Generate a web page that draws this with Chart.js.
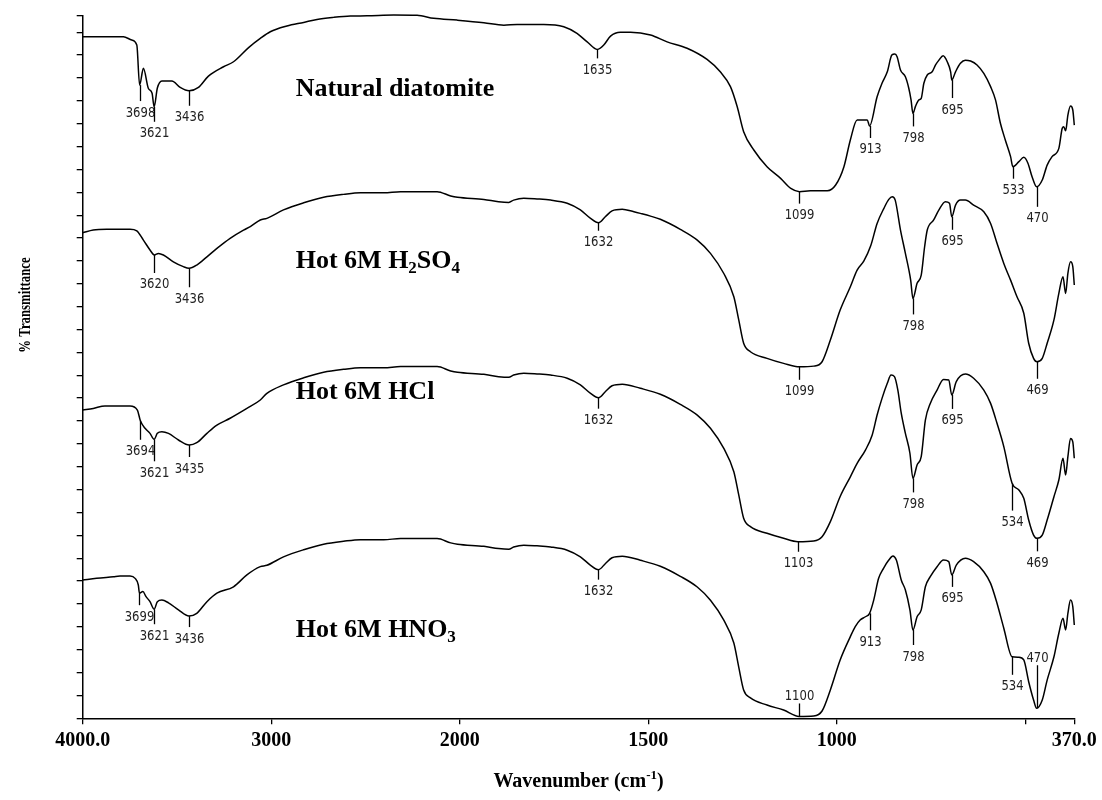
<!DOCTYPE html>
<html><head><meta charset="utf-8">
<script src="https://cdn.jsdelivr.net/npm/chart.js@4.4.1/dist/chart.umd.min.js"></script>
<style>html,body{margin:0;padding:0;background:#fff;}#wrap{width:1102px;height:800px;position:relative;}</style>
</head><body><div id="wrap"><canvas id="c" width="1102" height="800"></canvas></div>
<script>
// ---------------- data (wavenumber in cm-1, transmittance in arbitrary stacked units) -------------
const natWn = [4000,3784,3740,3713,3698,3678,3652,3632,3621,3604,3580,3527,3483,3436,3386,3333,3253,3200,3120,3058,3005,2917,2828,2757,2669,2580,2492,2350,2226,2138,2014,1936,1883,1848,1777,1724,1689,1662,1635,1618,1600,1574,1547,1494,1450,1397,1344,1309,1282,1264,1247,1220,1185,1149,1122,1099,1070,1025,1003,981,964,946,919,913,893,880,866,854,846,840,831,818,809,803,798,791,782,776,769,760,747,738,729,718,707,698,695,685,672,659,645,628,610,592,579,566,553,539,533,517,504,493,482,470,455,442,429,411,402,398,393,387,380,374,370];
const natT  = [298.0,298.0,296.6,294.4,276.9,284.2,275.5,273.3,267.4,275.6,278.7,278.7,275.9,274.4,275.9,280.8,284.9,287.1,293.3,297.3,300.2,302.7,304.3,305.6,306.5,307.1,307.2,307.5,307.4,306.1,305.3,304.2,303.1,303.4,303.4,302.4,299.5,295.8,292.5,294.4,298.3,300.0,300.0,298.8,295.8,293.0,288.1,282.7,276.2,267.4,256.5,248.5,241.2,236.1,231.7,230.3,230.7,230.7,233.2,241.2,252.9,261.6,261.6,259.0,271.8,277.7,282.7,290.0,290.5,289.3,283.5,280.5,275.5,270.4,264.5,267.7,270.4,271.1,277.7,281.3,282.7,285.7,287.8,289.7,287.1,282.7,279.1,282.7,286.4,287.8,287.4,285.7,282.0,276.2,270.4,260.2,252.9,245.6,241.2,243.4,245.3,242.7,236.8,232.4,235.4,241.9,245.6,249.2,258.0,258.7,256.9,263.8,267.7,266.0,259.4];

const h2so4Wn = [4000,3944,3873,3749,3713,3678,3643,3620,3598,3572,3519,3466,3436,3395,3341,3288,3218,3147,3111,3058,3023,2935,2828,2722,2616,2527,2403,2314,2120,2048,2012,1936,1897,1870,1857,1830,1795,1759,1715,1680,1653,1632,1614,1596,1569,1538,1521,1494,1468,1415,1370,1335,1300,1273,1260,1247,1229,1185,1141,1099,1061,1039,1017,991,964,946,928,910,893,875,862,853,845,831,818,804,798,787,776,767,760,743,729,712,701,695,685,672,659,637,610,592,575,557,539,522,504,491,478,469,455,442,424,411,400,393,387,380,374,370];
const h2so4T  = [212.3,213.5,213.8,213.8,213.1,209.1,204.8,202.6,203.3,202.6,199.6,197.5,196.8,198.2,201.8,205.5,209.9,213.5,215.0,217.9,218.6,222.3,225.4,227.8,229.1,229.8,229.8,230.3,230.3,228.4,227.8,226.9,225.9,225.6,226.6,227.4,227.1,226.6,225.2,222.3,218.6,216.7,219.3,221.9,222.6,221.5,220.8,219.6,218.2,213.8,209.1,203.3,194.6,184.3,174.2,164.0,160.3,157.4,155.2,153.7,154.0,155.9,165.4,178.5,188.7,196.0,200.0,206.6,216.4,223.0,226.9,228.1,226.6,213.5,203.3,191.6,183.6,190.2,193.8,206.2,213.5,217.9,222.3,225.9,225.2,219.3,224.4,226.6,226.6,224.4,221.5,216.4,207.7,198.9,191.6,184.3,177.1,164.0,157.4,155.9,157.4,164.0,174.2,185.8,193.1,185.8,194.6,199.6,197.5,189.5];

const hclWn = [4000,3944,3882,3749,3710,3694,3669,3643,3621,3604,3580,3545,3492,3435,3395,3341,3288,3218,3129,3058,3023,2935,2828,2722,2616,2527,2403,2314,2120,2048,2012,1936,1897,1870,1857,1830,1795,1759,1715,1680,1653,1632,1614,1596,1569,1521,1468,1415,1370,1335,1300,1273,1260,1247,1229,1185,1141,1103,1061,1039,1017,991,964,946,924,906,893,880,866,856,847,838,829,818,806,798,787,776,765,752,734,717,703,695,683,659,637,610,592,575,557,535,517,504,491,478,469,455,442,424,411,400,393,387,380,374,370];
const hclT  = [134.8,135.5,136.6,136.6,134.8,130.1,126.8,124.6,122.0,124.6,125.3,124.6,121.7,119.5,120.5,124.6,128.2,131.2,135.5,139.2,142.1,145.8,148.9,151.3,152.6,153.3,153.3,153.8,153.8,151.9,151.3,150.4,149.4,149.1,150.1,150.9,150.6,150.1,148.7,145.8,142.1,140.2,142.8,145.4,146.1,144.3,141.7,137.3,132.6,126.8,118.1,107.8,97.7,87.5,83.8,80.9,78.7,77.2,77.5,79.4,86.0,97.0,105.6,111.5,117.3,123.9,132.6,139.9,146.5,150.1,149.4,143.5,133.4,124.6,115.9,104.9,110.8,114.4,130.4,137.7,143.5,148.2,147.9,141.4,147.2,150.5,148.7,143.5,137.7,129.0,118.8,102.8,99.8,96.2,86.7,80.1,78.7,80.1,86.7,96.9,104.2,113.7,106.4,114.4,122.4,120.9,113.7];

const hno3Wn = [4000,3926,3837,3802,3749,3722,3705,3699,3681,3664,3643,3621,3604,3580,3545,3492,3436,3395,3341,3288,3200,3129,3058,3023,2935,2828,2722,2616,2527,2403,2314,2120,2048,2012,1936,1897,1870,1857,1830,1795,1759,1715,1680,1653,1632,1614,1596,1569,1521,1468,1415,1370,1335,1300,1273,1260,1247,1229,1185,1141,1100,1061,1039,1017,991,964,951,938,924,913,902,889,876,862,851,842,829,818,806,798,787,776,765,752,734,717,703,695,683,659,637,610,592,575,557,535,517,504,491,478,470,455,442,424,411,400,393,387,380,374,370];
const hno3T  = [60.5,61.2,61.9,62.2,62.2,61.2,58.3,54.7,55.4,53.2,51.0,47.7,51.0,51.7,50.5,47.4,44.7,45.9,51.0,54.7,57.5,62.7,66.3,66.9,70.6,73.7,76.1,77.4,78.1,78.1,78.6,78.6,76.7,76.1,75.2,74.2,73.9,74.9,75.7,75.4,74.9,73.5,70.6,66.9,65.0,67.6,70.2,70.9,69.1,66.5,62.1,57.4,51.6,43.0,32.9,22.4,12.4,8.9,5.8,3.6,0.8,1.0,3.2,12.4,25.5,35.7,40.1,43.0,44.4,45.9,51.7,61.2,65.6,69.2,71.0,69.2,60.5,56.1,47.4,38.6,44.4,47.4,57.5,61.9,66.3,69.2,68.5,62.7,67.0,70.0,68.5,64.1,59.0,50.3,39.4,26.9,26.7,25.5,16.0,8.0,4.4,8.0,16.7,26.9,37.2,43.7,38.6,45.9,51.7,48.8,40.8];

// peak annotations (wavenumbers and their printed labels)
const natPeaks   = [3698,3621,3436,1635,1099,913,798,695,533,470];
const h2so4Peaks = [3620,3436,1632,1099,798,695,469];
const hclPeaks   = [3694,3621,3435,1632,1103,798,695,534,469];
const hno3Peaks  = [3699,3621,3436,1632,1100,913,798,695,534,470];

// sample names
const seriesNames = ['Natural diatomite','Hot 6M H2SO4','Hot 6M HCl','Hot 6M HNO3'];

// axis ticks
const xTickWn = [4000,3000,2000,1500,1000,500,370];
const xTickLabels = ['4000.0','3000','2000','1500','1000','','370.0'];
const yMax = 307.1;
const yTickStep = 10;

// ---------------- presentation -------------
const BREAK = 2000; // region above 2000 cm-1 is drawn at half scale
function toAxis(w){ return w > BREAK ? BREAK + (w - BREAK) / 2 : w; }

// marker lengths in px (negative = label above)
const markLen = [
  [16,15,15,9,12,12,13,18,12,20],
  [18,19,8,13,16,13,17],
  [19,22,12,11,10,14,14,27,13],
  [12,15,11,10,-13,17,15,12,18,-43]
];
// name label anchors (wavenumber of left edge, baseline value)
const nameAnchor = [[2870,272.2],[2870,196.8],[2870,139.6],[2870,35.5]];

const series = [[natWn,natT,natPeaks],[h2so4Wn,h2so4T,h2so4Peaks],[hclWn,hclT,hclPeaks],[hno3Wn,hno3T,hno3Peaks]];

function interp(wn, tv, w){
  for (let i = 0; i < wn.length - 1; i++){
    const a = wn[i], b = wn[i+1];
    if ((w <= a && w >= b)){
      if (a === b) return tv[i];
      return tv[i] + (tv[i+1]-tv[i]) * (a - w)/(a - b);
    }
  }
  return tv[tv.length-1];
}

const SERIF = '"Liberation Serif","Times New Roman",serif';

function richSegs(name){
  const segs = [];
  const parts = name.split(/(\d)/);
  let prev = '';
  parts.forEach(p => {
    if (p === '') return;
    if (/^\d$/.test(p) && /[A-Z]$/.test(prev)) segs.push({t:p, sub:true});
    else segs.push({t:p});
    prev = p;
  });
  return segs;
}

function drawRich(ctx, x, y, segs, size, align){
  const big = 'bold ' + size + 'px ' + SERIF;
  const small = 'bold ' + Math.round(size*0.65) + 'px ' + SERIF;
  let total = 0;
  segs.forEach(s => { ctx.font = (s.sub||s.sup) ? small : big; total += ctx.measureText(s.t).width; });
  let cx = align === 'center' ? x - total/2 : x;
  ctx.textAlign = 'left';
  ctx.textBaseline = 'alphabetic';
  segs.forEach(s => {
    ctx.font = (s.sub||s.sup) ? small : big;
    let dy = 0;
    if (s.sub) dy = size*0.2;
    if (s.sup) dy = -size*0.38;
    ctx.fillText(s.t, cx, y + dy);
    cx += ctx.measureText(s.t).width;
  });
}

const overlay = {
  id: 'overlay',
  afterDatasetsDraw(chart){
    const ctx = chart.ctx, xs = chart.scales.x, ys = chart.scales.y;
    ctx.save();
    series.forEach((s, di) => {
      const [wn, tv, peaks] = s;
      peaks.forEach((w, k) => {
        const px = Math.round(xs.getPixelForValue(toAxis(w))) + 0.5;
        const py = ys.getPixelForValue(interp(wn, tv, w));
        const len = markLen[di][k];
        ctx.strokeStyle = '#000';
        ctx.lineWidth = 1.3;
        ctx.beginPath();
        ctx.moveTo(px, py);
        ctx.lineTo(px, py + len);
        ctx.stroke();
        const ty = len > 0 ? py + len + 12 : py + len - 7;
        ctx.save();
        ctx.translate(px, ty);
        ctx.scale(0.86, 1);
        ctx.font = '13.5px "DejaVu Sans", sans-serif';
        ctx.fillStyle = '#222';
        ctx.textAlign = 'center';
        ctx.textBaseline = 'middle';
        ctx.fillText(String(w), 0, 0);
        ctx.restore();
      });
    });
    ctx.fillStyle = '#000';
    seriesNames.forEach((n, i) => {
      const x = xs.getPixelForValue(toAxis(nameAnchor[i][0]));
      const y = ys.getPixelForValue(nameAnchor[i][1]);
      drawRich(ctx, x, y, richSegs(n), 26, 'left');
    });
    const xc = (chart.chartArea.left + chart.chartArea.right)/2;
    drawRich(ctx, xc, 787, [{t:'Wavenumber (cm'},{t:'-1',sup:true},{t:')'}], 20, 'center');
    ctx.save();
    ctx.translate(26, 305);
    ctx.rotate(-Math.PI/2);
    ctx.scale(0.8, 1);
    ctx.font = 'bold 16px ' + SERIF;
    ctx.textAlign = 'center';
    ctx.textBaseline = 'middle';
    ctx.fillText('% Transmittance', 0, 0);
    ctx.restore();
    ctx.restore();
  }
};

const datasets = series.map(s => ({
  data: s[0].map((w, i) => ({x: toAxis(w), y: s[1][i]})),
  borderColor: '#000',
  borderWidth: 1.5,
  pointRadius: 0,
  fill: false,
  cubicInterpolationMode: 'monotone',
  clip: false
}));

new Chart(document.getElementById('c'), {
  type: 'line',
  data: { datasets },
  options: {
    responsive: false,
    animation: false,
    devicePixelRatio: 1,
    parsing: false,
    layout: { padding: { top: 16, right: 27.7, left: 0, bottom: 0 } },
    plugins: { legend: { display: false }, tooltip: { enabled: false } },
    scales: {
      x: {
        type: 'linear', reverse: true,
        min: toAxis(370), max: toAxis(4000),
        afterBuildTicks: ax => { ax.ticks = xTickWn.map(w => ({value: toAxis(w)})); },
        afterFit: ax => { ax.height = 81.7; },
        ticks: {
          autoSkip: false, maxRotation: 0, padding: 5, color: '#000',
          font: { family: SERIF, size: 20, weight: 'bold' },
          callback: (v, i) => xTickLabels[i]
        },
        grid: { display: true, drawOnChartArea: false, drawTicks: true, tickLength: 6, color: '#000', lineWidth: 1.3 },
        border: { display: true, color: '#000', width: 1.5 }
      },
      y: {
        type: 'linear', min: 0, max: yMax,
        afterBuildTicks: ax => {
          const t = [];
          for (let v = 0; v <= yMax; v += yTickStep) t.push({value: v});
          t.push({value: yMax});
          ax.ticks = t;
        },
        afterFit: ax => { ax.width = 82.7; },
        ticks: { display: false },
        grid: { display: true, drawOnChartArea: false, drawTicks: true, tickLength: 6, color: '#000', lineWidth: 1.3 },
        border: { display: true, color: '#000', width: 1.5 }
      }
    }
  },
  plugins: [overlay]
});
</script></body></html>
